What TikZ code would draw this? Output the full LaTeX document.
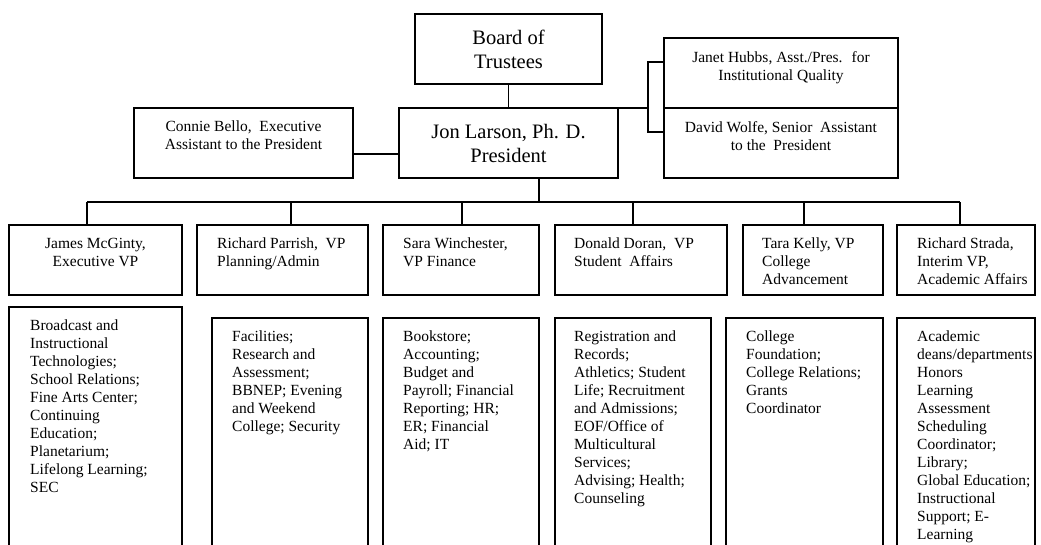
\documentclass[tikz,border=0pt]{standalone}
\usepackage{fontspec}
\setmainfont{Liberation Serif}
\begin{document}
\begin{tikzpicture}[x=1pt,y=-1pt,
  box/.style={draw, line width=1.2pt, rectangle, inner sep=0pt, outer sep=0pt, anchor=north west},
  small/.style={font=\fontsize{15.5}{18}\selectfont, inner sep=0pt},
  lefttxt/.style={small, align=left, anchor=north west},
  midtxt/.style={small, align=center, anchor=north},
  big/.style={font=\fontsize{20.5}{24}\selectfont, align=center, inner sep=0pt},
  conn/.style={line width=1.2pt}]
\useasboundingbox (0,0) rectangle (1041,544);
% top level
\node[box, minimum width=187pt, minimum height=70pt] (board) at (415,14) {};
\node[big] (boardt) at (board.center) {Board of\\Trustees};
\node[box, minimum width=219pt, minimum height=70pt] (pres) at (399,108) {};
\node[big] (prest) at (pres.center) {Jon Larson, Ph. D.\\President};
\node[box, minimum width=219pt, minimum height=70pt] (connie) at (134,108) {};
\node[midtxt] (conniet) at ([yshift=-13pt]connie.north) {Connie Bello,~ Executive\\Assistant to the President};
\node[box, minimum width=234pt, minimum height=70pt] (janet) at (664,38) {};
\node[midtxt] (janett) at ([yshift=-13pt]janet.north) {Janet Hubbs, Asst./Pres.~ for\\Institutional Quality};
\node[box, minimum width=234pt, minimum height=70pt] (david) at (664,108) {};
\node[midtxt] (davidt) at ([yshift=-13pt]david.north) {David Wolfe, Senior~ Assistant\\to the~ President};
% VP row
\node[box, minimum width=173pt, minimum height=70pt] (james) at (9,225) {};
\node[midtxt] (jamest) at ([yshift=-13pt]james.north) {James McGinty,\\Executive VP};
\node[box, minimum width=171pt, minimum height=70pt] (parrish) at (197,225) {};
\node[lefttxt] (parrisht) at ([xshift=20pt,yshift=-13pt]parrish.north west) {Richard Parrish,~ VP\\Planning/Admin};
\node[box, minimum width=156pt, minimum height=70pt] (sara) at (383,225) {};
\node[lefttxt] (sarat) at ([xshift=20pt,yshift=-13pt]sara.north west) {Sara Winchester,\\VP Finance};
\node[box, minimum width=172pt, minimum height=70pt] (donald) at (555,225) {};
\node[lefttxt] (donaldt) at ([xshift=19pt,yshift=-13pt]donald.north west) {Donald Doran,~ VP\\Student~ Affairs};
\node[box, minimum width=140pt, minimum height=70pt] (tara) at (743,225) {};
\node[lefttxt] (tarat) at ([xshift=19pt,yshift=-13pt]tara.north west) {Tara Kelly, VP\\College\\Advancement};
\node[box, minimum width=138pt, minimum height=70pt] (strada) at (897,225) {};
\node[lefttxt] (stradat) at ([xshift=20pt,yshift=-13pt]strada.north west) {Richard Strada,\\Interim VP,\\Academic Affairs};
% bottom boxes
\node[box, minimum width=173pt, minimum height=260pt] (jamesb) at (9,307) {};
\node[lefttxt] (jamesbt) at ([xshift=21pt,yshift=-13pt]jamesb.north west) {Broadcast and\\Instructional\\Technologies;\\School Relations;\\Fine Arts Center;\\Continuing\\Education;\\Planetarium;\\Lifelong Learning;\\SEC};
\node[box, minimum width=156pt, minimum height=250pt] (parrishb) at (212,318) {};
\node[lefttxt] (parrishbt) at ([xshift=20pt,yshift=-13pt]parrishb.north west) {Facilities;\\Research and\\Assessment;\\BBNEP; Evening\\and Weekend\\College; Security};
\node[box, minimum width=156pt, minimum height=250pt] (sarab) at (383,318) {};
\node[lefttxt] (sarabt) at ([xshift=20pt,yshift=-13pt]sarab.north west) {Bookstore;\\Accounting;\\Budget and\\Payroll; Financial\\Reporting; HR;\\ER; Financial\\Aid; IT};
\node[box, minimum width=156pt, minimum height=250pt] (donaldb) at (555,318) {};
\node[lefttxt] (donaldbt) at ([xshift=19pt,yshift=-13pt]donaldb.north west) {Registration and\\Records;\\Athletics; Student\\Life; Recruitment\\and Admissions;\\EOF/Office of\\Multicultural\\Services;\\Advising; Health;\\Counseling};
\node[box, minimum width=157pt, minimum height=250pt] (tarab) at (726,318) {};
\node[lefttxt] (tarabt) at ([xshift=20pt,yshift=-13pt]tarab.north west) {College\\Foundation;\\College Relations;\\Grants\\Coordinator};
\node[box, minimum width=138pt, minimum height=250pt] (stradab) at (897,318) {};
\node[lefttxt] (stradabt) at ([xshift=20pt,yshift=-13pt]stradab.north west) {Academic\\deans/departments\\Honors\\Learning\\Assessment\\Scheduling\\Coordinator;\\Library;\\Global Education;\\Instructional\\Support; E-\\Learning};
% connectors
\draw[conn] (board.south) -- (pres.north);
\draw[conn] ([yshift=-11pt]connie.east) -- ([yshift=-11pt]pres.west);
\coordinate (bk) at (648,108);
\draw[conn] (pres.north east) -- (bk);
\draw[conn] ([yshift=11pt]janet.west) -| (bk) |- ([yshift=11pt]david.west);
\coordinate (busc) at (539,202);
\draw[conn] (pres.south -| busc) -- (busc);
\coordinate (d1) at (87,202);
\coordinate (d2) at (291,202);
\coordinate (d3) at (462,202);
\coordinate (d4) at (633,202);
\coordinate (d5) at (804,202);
\coordinate (d6) at (960,202);
\draw[conn] (d1) -- (d6);
\draw[conn] (d1) -- (d1 |- james.north);
\draw[conn] (d2) -- (d2 |- parrish.north);
\draw[conn] (d3) -- (d3 |- sara.north);
\draw[conn] (d4) -- (d4 |- donald.north);
\draw[conn] (d5) -- (d5 |- tara.north);
\draw[conn] (d6) -- (d6 |- strada.north);
\end{tikzpicture}
\end{document}
